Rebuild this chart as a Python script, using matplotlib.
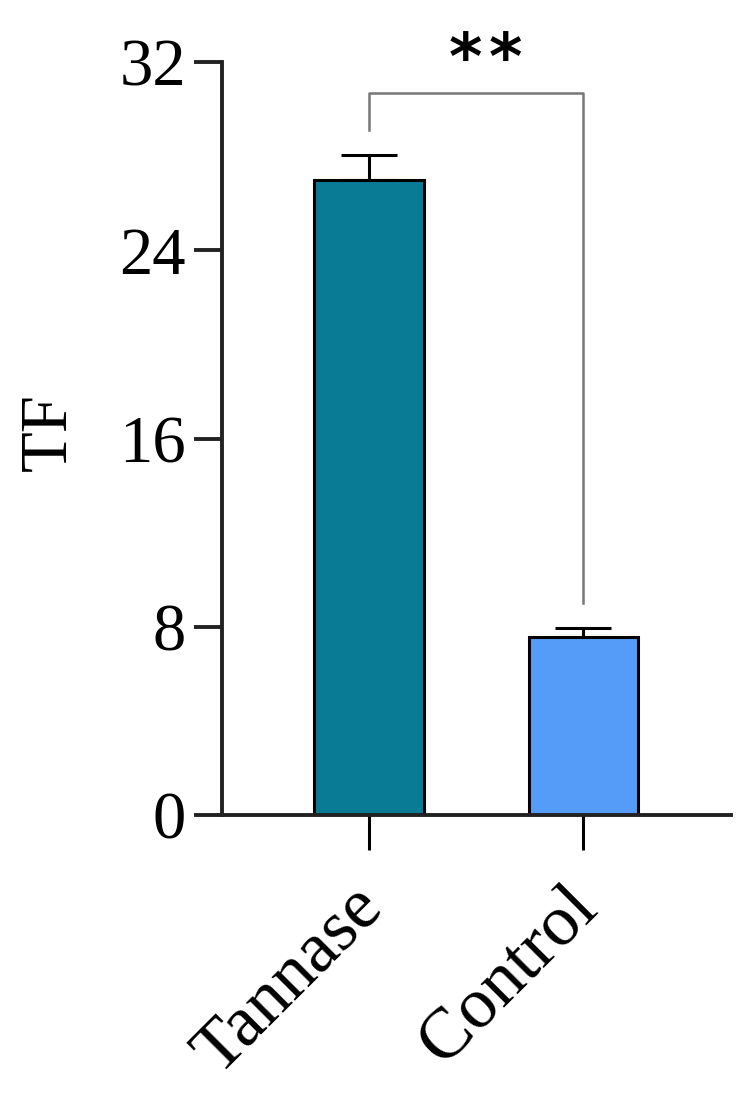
import numpy as np
import matplotlib
matplotlib.use("Agg")
import matplotlib.pyplot as plt
import matplotlib.transforms as mtransforms

groups = ["Tannase", "Control"]
means = [27.0, 7.56]
errs = [1.05, 0.39]
colors = ["#0A7B94", "#549CF7"]
yticks = [0, 8, 16, 24, 32]

plt.rcParams['font.family'] = ['Liberation Serif', 'DejaVu Serif']

fig = plt.figure(figsize=(7.53, 10.98), dpi=100)
ax = fig.add_axes([0.2948, 0.2577, 0.676, 0.6858])

x = np.arange(len(groups))
ax.bar(x, means, width=0.51, color=colors, edgecolor="black", linewidth=2.2, zorder=2)
ax.errorbar(x, means, yerr=[np.zeros(len(errs)), errs], fmt="none", ecolor="black",
            elinewidth=2.2, capsize=20, capthick=2.2, zorder=1)

ax.set_xlim(-0.687, 1.69)
ax.set_ylim(0, 32)
ax.set_yticks(yticks)
ax.set_xticks(x)
ax.set_xticklabels(groups, rotation=45, ha="right", rotation_mode="anchor")

for s in ["top", "right"]:
    ax.spines[s].set_visible(False)
for s in ["left", "bottom"]:
    ax.spines[s].set_linewidth(2.8)
    ax.spines[s].set_color("#222222")

ax.tick_params(axis="y", length=20, width=2.8, labelsize=48, pad=6, color="#222222")
ax.tick_params(axis="x", length=25, width=2.2, labelsize=52, pad=10)
ax.set_ylabel("TF", fontsize=48, labelpad=28)
ax.yaxis.label.set_y(0.508)

# shift the slanted labels a bit left and down
off = mtransforms.ScaledTranslation(-0.2, -0.1, fig.dpi_scale_trans)
for lbl in ax.get_xticklabels():
    lbl.set_transform(lbl.get_transform() + off)

# significance bracket
by = 30.68
ax.plot([0, 0, 1, 1], [29.1, by, by, 9.0], color="#777777", lw=1.8, clip_on=False)
for sx in [0.45, 0.635]:
    ax.text(sx, 32.05, "*", ha="center", va="center", fontsize=46,
            fontweight="bold", family="DejaVu Sans", clip_on=False)

fig.savefig("out.png", dpi=100)
